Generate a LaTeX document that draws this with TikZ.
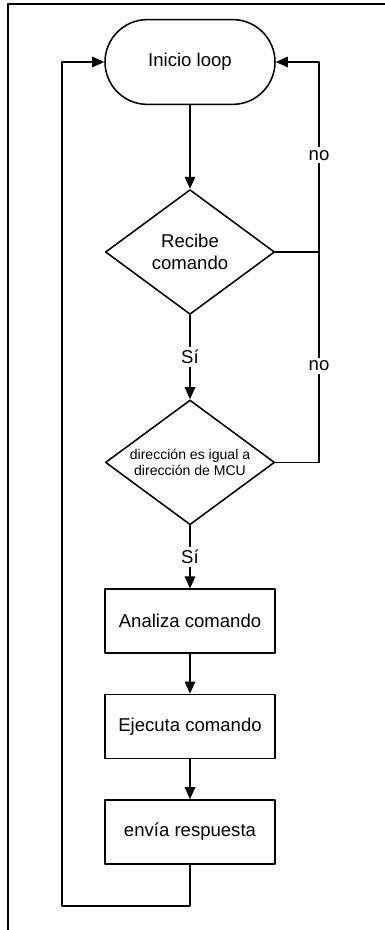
\documentclass[tikz,border=0pt]{standalone}
\usepackage{fontspec}
\setmainfont{Liberation Sans}
\usetikzlibrary{shapes.geometric,arrows.meta}
\begin{document}
\begin{tikzpicture}[line cap=round, line join=round, >={Triangle[length=3mm,width=2.6mm]}, line width=1.1pt]
			\tikzset{txt/.style={font=\fontsize{13.2}{15.6}\selectfont, align=center},
				caja/.style={txt, draw, minimum width=4.25cm, minimum height=1.6cm, inner sep=0pt},
				inicio/.style={caja, rounded corners=1.06cm, minimum height=2.12cm},
				decision/.style={txt, draw, diamond, aspect=1.356, minimum width=4.23cm, minimum height=3.12cm, inner sep=0pt},
				lbl/.style={font=\fontsize{13.2}{15.6}\selectfont, fill=white, inner sep=2pt}}
			\useasboundingbox (0,0) rectangle (9.625,-23.25);
			\draw[line width=1.5pt, line cap=butt] (9.625,-0.11)--(0.21,-0.11)--(0.21,-23.25);
			\node[inicio] (ini) at (4.75,-1.55) {Inicio loop};
			\node[decision] (rec) at (4.75,-6.3) {Recibe\\comando};
			\node[decision, font=\fontsize{10}{12}\selectfont] (dir) at (4.75,-11.56) {dirección es igual a\\dirección de MCU};
			\node[caja] (ana) at (4.75,-15.53) {Analiza comando};
			\node[caja] (eje) at (4.75,-18.16) {Ejecuta comando};
			\node[caja] (env) at (4.75,-20.8) {envía respuesta};
			\coordinate (der) at (7.975,-1.55);
			\coordinate (izq) at (1.55,-22.65);
			\draw[->] (ini)--(rec);
			\draw[->] (rec)--(dir) node[midway, lbl]{Sí};
			\draw[->] (dir)--(ana) node[midway, lbl]{Sí};
			\draw[->] (ana)--(eje);
			\draw[->] (eje)--(env);
			\draw[->] (rec.east) -| (der) -- (ini.east);
			\draw (dir.east) -| (rec.east -| der);
			\draw[->] (env.south) |- (izq) |- (ini.west);
			\node[lbl] (no1) at (7.975,-3.88) {no};
			\node[lbl] (no2) at (7.975,-9.15) {no};
		\end{tikzpicture}
\end{document}
